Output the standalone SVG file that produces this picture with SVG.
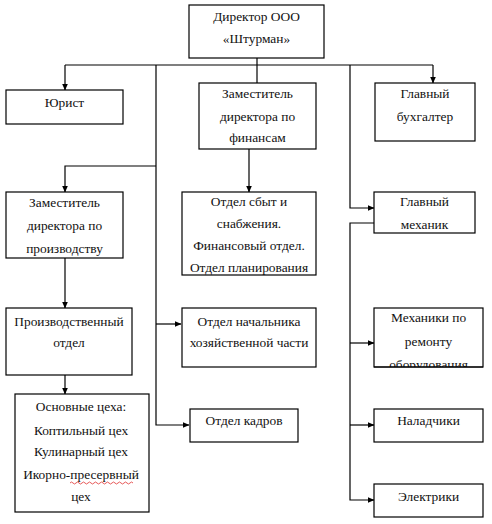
<svg xmlns="http://www.w3.org/2000/svg" width="492" height="524" viewBox="0 0 492 524">
<style>
.b{fill:#fff;stroke:#000;stroke-width:1.2}
.t{font-family:"Liberation Serif","Times New Roman",serif;font-size:13.4px;fill:#111;text-anchor:middle}
.c{fill:none;stroke:#000;stroke-width:1.2}
</style>
<defs>
<marker id="a" markerWidth="7" markerHeight="6" refX="6.5" refY="3" orient="auto" markerUnits="userSpaceOnUse">
<path d="M0,0 L7,3 L0,6 Z" fill="#000"/>
</marker>
<clipPath id="mclip"><rect x="374" y="308" width="109" height="59"/></clipPath>
</defs>
<rect width="492" height="524" fill="#fff"/>
<g id="connectors">
<path class="c" d="M257,58 V83"/>
<path class="c" d="M65,65 H433"/>
<path class="c" d="M65,65 V90" marker-end="url(#a)"/>
<path class="c" d="M433,65 V83" marker-end="url(#a)"/>
<path class="c" d="M156,65 V425 H189" marker-end="url(#a)"/>
<path class="c" d="M156,166 H65 V192" marker-end="url(#a)"/>
<path class="c" d="M156,324 H181" marker-end="url(#a)"/>
<path class="c" d="M350,65 V208 H374" marker-end="url(#a)"/>
<path class="c" d="M249,149 V192" marker-end="url(#a)"/>
<path class="c" d="M65,258 V308" marker-end="url(#a)"/>
<path class="c" d="M65,375 V394" marker-end="url(#a)"/>
<path class="c" d="M374,223 H350 V500 H374" marker-end="url(#a)"/>
<path class="c" d="M350,343 H374" marker-end="url(#a)"/>
<path class="c" d="M350,425 H374" marker-end="url(#a)"/>
</g>
<g id="director">
<rect class="b" x="189" y="5" width="135" height="53"/>
<text class="t" x="256.5" y="21">Директор ООО</text>
<text class="t" x="256.5" y="43">«Штурман»</text>
</g>
<g id="lawyer">
<rect class="b" x="6" y="90" width="117" height="34"/>
<text class="t" x="64.5" y="107">Юрист</text>
</g>
<g id="deputy-finance">
<rect class="b" x="199" y="83" width="117" height="66"/>
<text class="t" x="257.5" y="98">Заместитель</text>
<text class="t" x="257.5" y="121">директора по</text>
<text class="t" x="257.5" y="142">финансам</text>
</g>
<g id="chief-accountant">
<rect class="b" x="375" y="83" width="100" height="58"/>
<text class="t" x="425" y="98">Главный</text>
<text class="t" x="425" y="121">бухгалтер</text>
</g>
<g id="deputy-production">
<rect class="b" x="6" y="192" width="117" height="66"/>
<text class="t" x="64.5" y="207">Заместитель</text>
<text class="t" x="64.5" y="230">директора по</text>
<text class="t" x="64.5" y="253">производству</text>
</g>
<g id="sales-dept">
<rect class="b" x="182" y="192" width="134" height="83"/>
<text class="t" x="249" y="206">Отдел сбыт и</text>
<text class="t" x="249" y="228">снабжения.</text>
<text class="t" x="249" y="250">Финансовый отдел.</text>
<text class="t" x="249" y="272">Отдел планирования</text>
</g>
<g id="chief-mechanic">
<rect class="b" x="374" y="192" width="101" height="41"/>
<text class="t" x="424.5" y="206">Главный</text>
<text class="t" x="424.5" y="229">механик</text>
</g>
<g id="production-dept">
<rect class="b" x="6" y="308" width="126" height="67"/>
<text class="t" x="69" y="326">Производственный</text>
<text class="t" x="69" y="347">отдел</text>
</g>
<g id="household-dept">
<rect class="b" x="182" y="308" width="134" height="59"/>
<text class="t" x="249" y="326">Отдел начальника</text>
<text class="t" x="249" y="347">хозяйственной части</text>
</g>
<g id="repair-mechanics">
<rect class="b" x="374" y="308" width="109" height="59"/>
<g clip-path="url(#mclip)">
<text class="t" x="428.5" y="322">Механики по</text>
<text class="t" x="428.5" y="346">ремонту</text>
<text class="t" x="428.5" y="369">оборудования</text>
</g>
<line class="c" x1="374" y1="367" x2="483" y2="367"/>
</g>
<g id="workshops">
<rect class="b" x="15" y="394" width="134" height="118"/>
<text class="t" x="81" y="411">Основные цеха:</text>
<text class="t" x="81" y="435">Коптильный цех</text>
<text class="t" x="81" y="456">Кулинарный цех</text>
<text class="t" x="81" y="479">Икорно-пресервный</text>
<text class="t" x="81" y="501">цех</text>
<path d="M70,483 q1.5,-2 3,0 t3,0 t3,0 t3,0 t3,0 t3,0 t3,0 t3,0 t3,0 t3,0 t3,0 t3,0 t3,0 t3,0 t3,0 t3,0 t3,0 t3,0 t3,0 t3,0 t3,0" fill="none" stroke="#e03030" stroke-width="0.8"/>
</g>
<g id="hr-dept">
<rect class="b" x="190" y="409" width="108" height="33"/>
<text class="t" x="244" y="425">Отдел кадров</text>
</g>
<g id="adjusters">
<rect class="b" x="374" y="409" width="109" height="33"/>
<text class="t" x="428.5" y="425">Наладчики</text>
</g>
<g id="electricians">
<rect class="b" x="374" y="484" width="109" height="33"/>
<text class="t" x="428.5" y="501">Электрики</text>
</g>
</svg>
